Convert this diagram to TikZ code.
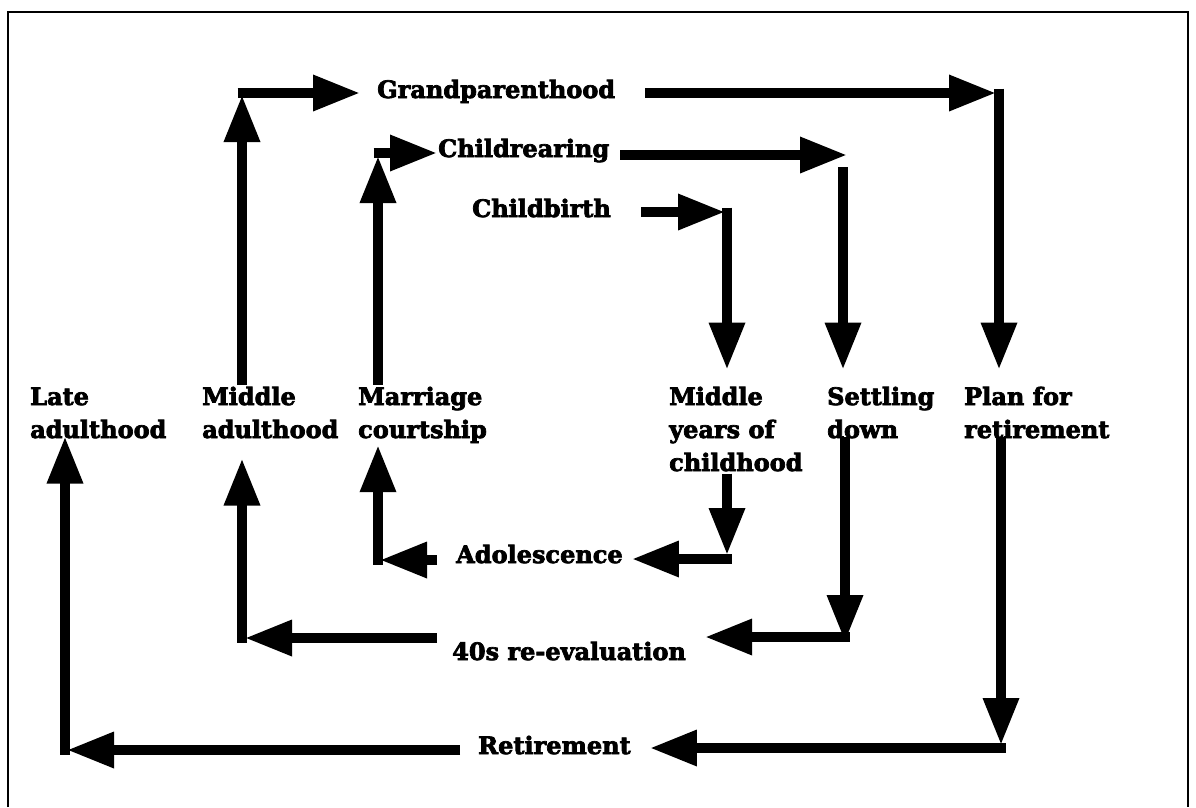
\documentclass[tikz,border=0pt]{standalone}
\usepackage{fontspec}
\setmainfont{DejaVu Serif}[BoldFeatures={FakeBold=3}]
\usetikzlibrary{arrows.meta,calc}

\begin{document}
\begin{tikzpicture}[x=1pt,y=-1pt,
  conn/.style={line width=9.5pt,-{Triangle[length=47pt,width=34pt]}},
  lbl/.style={font=\bfseries\fontsize{24}{33}\selectfont,inner sep=0pt,
              anchor=base west,align=left},
  frame/.style={line width=2.5pt}]
\useasboundingbox (0,0) rectangle (1196,807);

% outer frame (open at the bottom)
\draw[frame] (8,807) -- (8,12) -- (1188,12) -- (1188,807);

% stage labels (base anchor = baseline of the last line)
\node[lbl] (gp) at (377,98)  {Grandparenthood};
\node[lbl] (cr) at (438,157) {Childrearing};
\node[lbl] (cb) at (472,217) {Childbirth};
\node[lbl] (la) at (30,438)  {Late\\adulthood};
\node[lbl] (ma) at (202,438) {Middle\\adulthood};
\node[lbl] (mc) at (358,438) {Marriage\\courtship};
\node[lbl] (my) at (669,471) {Middle\\years of\\childhood};
\node[lbl] (sd) at (827,438) {Settling\\down};
\node[lbl] (pr) at (964,438) {Plan for\\retirement};
\node[lbl] (ad) at (456,563) {Adolescence};
\node[lbl] (fe) at (452,660) {40s re-evaluation};
\node[lbl] (rt) at (478,754) {Retirement};

% bends of the connectors
\coordinate (kA) at (242,93);
\coordinate (kB) at (378,153);
\coordinate (kC) at (999,93);
\coordinate (kD) at (847,155);
\coordinate (kDs) at (843,167);
\coordinate (kE) at (727,212);
\coordinate (kF) at (727,559);
\coordinate (kG) at (378,560);
\coordinate (kH) at (845,637);
\coordinate (kI) at (242,638);
\coordinate (kJ) at (1001,748);
\coordinate (kK) at (65,750);

% Middle adulthood -> Grandparenthood
\draw[conn] ($(kA |- ma.north)+(0,-2)$) -- ($(kA)+(0,2)$);
\draw[conn] ($(kA)+(-4.5,0)$) -- ($(kA -| gp.west)+(-17,0)$);
% Marriage courtship -> Childrearing
\draw[conn] ($(kB |- mc.north)+(0,-2)$) -- ($(kB)+(0,3)$);
\draw[conn] ($(kB)+(-4.5,0)$) -- ($(kB -| cr.west)+(-1,0)$);
% Grandparenthood -> Plan for retirement
\draw[conn] ($(kC -| gp.east)+(30,0)$) -- ($(kC)+(-3,0)$);
\draw[conn] ($(kC)+(0,-4.5)$) -- ($(kC |- pr.north)+(0,-17)$);
% Childrearing -> Settling down
\draw[conn] ($(kD -| cr.east)+(11,0)$) -- (kD);
\draw[conn] (kDs) -- ($(kDs |- sd.north)+(0,-17)$);
% Childbirth -> Middle years of childhood
\draw[conn] ($(kE -| cb.east)+(30,0)$) -- ($(kE)+(-2,0)$);
\draw[conn] ($(kE)+(0,-4.5)$) -- ($(kE |- my.north)+(0,-17)$);
% Middle years of childhood -> Adolescence
\draw[conn] ($(kF |- my.south)+(0,2)$) -- ($(kF)+(0,-4)$);
\draw[conn] ($(kF)+(4.5,0)$) -- ($(kF -| ad.east)+(9,0)$);
% Adolescence -> Marriage courtship
\draw[conn] ($(kG -| ad.west)+(-19,0)$) -- ($(kG)+(2,0)$);
\draw[conn] ($(kG)+(0,4.5)$) -- ($(kG |- mc.south)+(0,2)$);
% Settling down -> 40s re-evaluation
\draw[conn] ($(kH |- sd.south)+(0,-2)$) -- ($(kH)+(0,5)$);
\draw[conn] ($(kH)+(4.5,0)$) -- ($(kH -| fe.east)+(19,0)$);
% 40s re-evaluation -> Middle adulthood
\draw[conn] ($(kI -| fe.west)+(-15,0)$) -- ($(kI)+(3,0)$);
\draw[conn] ($(kI)+(0,4.5)$) -- ($(kI |- ma.south)+(0,20)$);
% Plan for retirement -> Retirement
\draw[conn] ($(pr.south -| kJ)+(0,-2)$) -- ($(kJ)+(0,-3)$);
\draw[conn] ($(kJ)+(4.5,0)$) -- ($(kJ -| rt.east)+(19,0)$);
% Retirement -> Late adulthood
\draw[conn] ($(kK -| rt.west)+(-18,0)$) -- ($(kK)+(2,0)$);
\draw[conn] ($(kK)+(0,4.5)$) -- ($(kK |- la.south)+(0,-2)$);
\end{tikzpicture}
\end{document}
